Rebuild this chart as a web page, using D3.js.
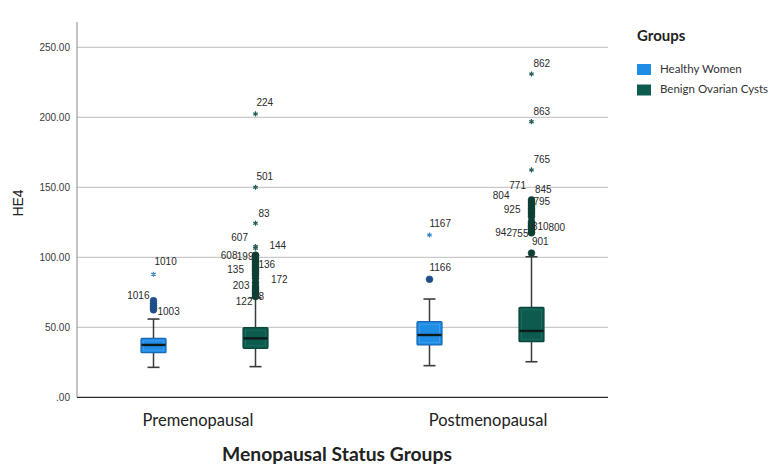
<!DOCTYPE html>
<html>
<head>
<meta charset="utf-8">
<script src="https://cdn.jsdelivr.net/npm/d3@7"></script>
<style>
  html, body { margin: 0; padding: 0; background: #ffffff; }
  svg { display: block; }
</style>
</head>
<body>
<svg id="chart" width="772" height="466"></svg>
<script>
// ---- data -------------------------------------------------------------
const categories = ["Premenopausal", "Postmenopausal"];
const groups = ["Healthy Women", "Benign Ovarian Cysts"];
const yTicks = [0, 50, 100, 150, 200, 250];

// five-number summaries [lower whisker, Q1, median, Q3, upper whisker], one per category
const healthyStats = [[21.4, 31.9, 37.4, 42.1, 55.9], [22.6, 37.4, 44.5, 54.0, 70.2]];
const benignStats  = [[21.9, 35.0, 42.1, 49.7, 71.0], [25.4, 39.7, 47.4, 64.3, 100.4]];

// outliers (circle) and extremes (star): [category, group, value, case label]
const outlierPoints = [
  ["Premenopausal", "Healthy Women", 69.0, "1016"],
  ["Premenopausal", "Healthy Women", 67.0, ""],
  ["Premenopausal", "Healthy Women", 65.5, ""],
  ["Premenopausal", "Healthy Women", 64.0, ""],
  ["Premenopausal", "Healthy Women", 62.5, "1003"],
  ["Premenopausal", "Benign Ovarian Cysts", 101.5, "608"],
  ["Premenopausal", "Benign Ovarian Cysts", 101.0, "199"],
  ["Premenopausal", "Benign Ovarian Cysts", 99.0, ""],
  ["Premenopausal", "Benign Ovarian Cysts", 97.5, ""],
  ["Premenopausal", "Benign Ovarian Cysts", 96.0, "136"],
  ["Premenopausal", "Benign Ovarian Cysts", 94.5, ""],
  ["Premenopausal", "Benign Ovarian Cysts", 93.0, "135"],
  ["Premenopausal", "Benign Ovarian Cysts", 91.5, ""],
  ["Premenopausal", "Benign Ovarian Cysts", 90.0, ""],
  ["Premenopausal", "Benign Ovarian Cysts", 88.5, ""],
  ["Premenopausal", "Benign Ovarian Cysts", 87.0, "172"],
  ["Premenopausal", "Benign Ovarian Cysts", 85.0, ""],
  ["Premenopausal", "Benign Ovarian Cysts", 82.0, ""],
  ["Premenopausal", "Benign Ovarian Cysts", 79.5, "203"],
  ["Premenopausal", "Benign Ovarian Cysts", 78.0, ""],
  ["Premenopausal", "Benign Ovarian Cysts", 76.5, ""],
  ["Premenopausal", "Benign Ovarian Cysts", 75.0, ""],
  ["Premenopausal", "Benign Ovarian Cysts", 73.5, "8"],
  ["Premenopausal", "Benign Ovarian Cysts", 72.0, "122"],
  ["Postmenopausal", "Healthy Women", 84.3, "1166"],
  ["Postmenopausal", "Benign Ovarian Cysts", 141.0, "771"],
  ["Postmenopausal", "Benign Ovarian Cysts", 139.5, "845"],
  ["Postmenopausal", "Benign Ovarian Cysts", 138.0, "804"],
  ["Postmenopausal", "Benign Ovarian Cysts", 136.5, "795"],
  ["Postmenopausal", "Benign Ovarian Cysts", 135.0, ""],
  ["Postmenopausal", "Benign Ovarian Cysts", 133.5, ""],
  ["Postmenopausal", "Benign Ovarian Cysts", 132.0, "925"],
  ["Postmenopausal", "Benign Ovarian Cysts", 130.5, ""],
  ["Postmenopausal", "Benign Ovarian Cysts", 129.0, ""],
  ["Postmenopausal", "Benign Ovarian Cysts", 125.5, ""],
  ["Postmenopausal", "Benign Ovarian Cysts", 124.0, ""],
  ["Postmenopausal", "Benign Ovarian Cysts", 122.5, "810"],
  ["Postmenopausal", "Benign Ovarian Cysts", 122.0, "800"],
  ["Postmenopausal", "Benign Ovarian Cysts", 121.0, ""],
  ["Postmenopausal", "Benign Ovarian Cysts", 119.5, ""],
  ["Postmenopausal", "Benign Ovarian Cysts", 118.0, "942"],
  ["Postmenopausal", "Benign Ovarian Cysts", 117.5, "755"],
  ["Postmenopausal", "Benign Ovarian Cysts", 103.0, "901"]
];
const extremePoints = [
  ["Premenopausal", "Healthy Women", 87.9, "1010"],
  ["Premenopausal", "Benign Ovarian Cysts", 202.4, "224"],
  ["Premenopausal", "Benign Ovarian Cysts", 150.0, "501"],
  ["Premenopausal", "Benign Ovarian Cysts", 124.3, "83"],
  ["Premenopausal", "Benign Ovarian Cysts", 107.6, "607"],
  ["Premenopausal", "Benign Ovarian Cysts", 106.5, "144"],
  ["Postmenopausal", "Healthy Women", 115.9, "1167"],
  ["Postmenopausal", "Benign Ovarian Cysts", 230.9, "862"],
  ["Postmenopausal", "Benign Ovarian Cysts", 196.9, "863"],
  ["Postmenopausal", "Benign Ovarian Cysts", 162.4, "765"]
];

// ---- layout -----------------------------------------------------------
const svg = d3.select("#chart");
const plot = { left: 77, right: 608, top: 22, bottom: 397.3 };
const boxW = 25, capW = 12;

const fills   = { "Healthy Women": "#1f8ce6", "Benign Ovarian Cysts": "#0c5b4e" };
const strokes = { "Healthy Women": "#1769b3", "Benign Ovarian Cysts": "#0a463c" };
const inner   = { "Healthy Women": "#5fb0f0", "Benign Ovarian Cysts": "#2f7d70" };
const dotFill = { "Healthy Women": "#1d4f86", "Benign Ovarian Cysts": "#0d3f35" };
const starCol = { "Healthy Women": "#3a87c8", "Benign Ovarian Cysts": "#245f56" };

// case-label placement: [dx from box centre, dy from point, anchor]
const labelPlace = {
  "1016": [-4, -4, "end"], "1003": [4, 3, "start"], "1010": [1, -11.5, "start"],
  "608": [-18, 1, "end"], "199": [-2, 1, "end"], "136": [3, 2, "start"],
  "135": [-11.5, 3.5, "end"], "172": [15.5, 4.5, "start"], "203": [-6, 0.7, "end"],
  "8": [3, 3, "start"], "122": [-3, 6, "end"],
  "224": [1, -11, "start"], "501": [1, -10, "start"], "83": [3, -9, "start"],
  "607": [-7.5, -8.5, "end"], "144": [14, -1.5, "start"],
  "1167": [0, -11, "start"], "1166": [0, -11, "start"],
  "862": [2, -10, "start"], "863": [2, -9, "start"], "765": [2, -10, "start"],
  "771": [-5.5, -14, "end"], "845": [3.5, -12, "start"], "804": [-22, -7.4, "end"],
  "795": [2, -4, "start"], "925": [-11, -2, "end"],
  "942": [-19.5, 1, "end"], "755": [-3, 1.3, "end"],
  "810": [0.5, 1.5, "start"], "800": [17, 2, "start"], "901": [0.5, -11, "start"]
};
// horizontal nudge of the category labels under the axis
const tickNudge = { "Premenopausal": -7, "Postmenopausal": 7 };

const x = d3.scalePoint().domain(categories).range([plot.left, plot.right]).padding(0.462);
const xSub = d3.scalePoint().domain(groups).range([-51, 51]);
const y = d3.scaleLinear().domain([0, 250]).range([plot.bottom, plot.bottom - 350]);
const cx = (cat, grp) => x(cat) + xSub(grp);

// gridlines
svg.append("g")
  .selectAll("line")
  .data(yTicks.filter(t => t > 0))
  .join("line")
  .attr("x1", plot.left).attr("x2", plot.right)
  .attr("y1", d => y(d)).attr("y2", d => y(d))
  .attr("stroke", "#c9c9c9").attr("stroke-width", 1.2);

// y axis
const yAxis = svg.append("g")
  .attr("transform", `translate(${plot.left},0)`)
  .call(d3.axisLeft(y).tickValues(yTicks).tickSize(0).tickPadding(7)
    .tickFormat(d => d === 0 ? ".00" : d.toFixed(2)));
yAxis.select(".domain").remove();
yAxis.selectAll("text")
  .attr("font-family", "Liberation Sans, Arial, sans-serif")
  .attr("font-size", 10).attr("fill", "#3a3a3a");
svg.append("line")
  .attr("x1", plot.left).attr("x2", plot.left)
  .attr("y1", plot.top).attr("y2", plot.bottom)
  .attr("stroke", "#8a8a8a").attr("stroke-width", 1);

// x axis
const xAxis = svg.append("g")
  .attr("transform", `translate(0,${plot.bottom})`)
  .call(d3.axisBottom(x).tickSize(0).tickPadding(17));
xAxis.select(".domain")
  .attr("d", `M${plot.left},0H${plot.right}`)
  .attr("stroke", "#2b2b2b").attr("stroke-width", 1.2);
xAxis.selectAll("text")
  .attr("dx", d => tickNudge[d])
  .attr("font-family", "Lato, 'Open Sans', sans-serif")
  .attr("font-size", 16.5).attr("fill", "#222");

// axis titles
svg.append("text")
  .attr("x", 337).attr("y", 461)
  .attr("text-anchor", "middle")
  .attr("font-family", "Lato, 'Open Sans', sans-serif")
  .attr("font-weight", "bold").attr("font-size", 19.3).attr("fill", "#222")
  .text("Menopausal Status Groups");
svg.append("text")
  .attr("transform", "translate(23,203) rotate(-90)")
  .attr("text-anchor", "middle")
  .attr("font-family", "Liberation Sans, Arial, sans-serif")
  .attr("font-size", 14).attr("fill", "#222")
  .text("HE4");

// boxes
const boxes = [];
categories.forEach((c, i) => {
  boxes.push({ cat: c, grp: groups[0], s: healthyStats[i] });
  boxes.push({ cat: c, grp: groups[1], s: benignStats[i] });
});

const bg = svg.append("g").selectAll("g").data(boxes).join("g");
bg.append("line")
  .attr("x1", d => cx(d.cat, d.grp)).attr("x2", d => cx(d.cat, d.grp))
  .attr("y1", d => y(d.s[0])).attr("y2", d => y(d.s[4]))
  .attr("stroke", "#3b3b3b").attr("stroke-width", 1.5);
bg.selectAll(".cap").data(d => [[d, d.s[0]], [d, d.s[4]]]).join("line")
  .attr("x1", ([d]) => cx(d.cat, d.grp) - capW / 2)
  .attr("x2", ([d]) => cx(d.cat, d.grp) + capW / 2)
  .attr("y1", ([, v]) => y(v)).attr("y2", ([, v]) => y(v))
  .attr("stroke", "#3b3b3b").attr("stroke-width", 1.6);
bg.append("rect")
  .attr("x", d => cx(d.cat, d.grp) - boxW / 2)
  .attr("width", boxW)
  .attr("y", d => y(d.s[3]))
  .attr("height", d => y(d.s[1]) - y(d.s[3]))
  .attr("rx", 1)
  .attr("fill", d => fills[d.grp])
  .attr("stroke", d => strokes[d.grp]).attr("stroke-width", 1.2);
bg.append("rect")
  .attr("x", d => cx(d.cat, d.grp) - boxW / 2 + 2.5)
  .attr("width", boxW - 5)
  .attr("y", d => y(d.s[3]) + 2.5)
  .attr("height", d => y(d.s[1]) - y(d.s[3]) - 5)
  .attr("fill", "none")
  .attr("stroke", d => inner[d.grp]).attr("stroke-width", 0.8).attr("opacity", 0.6);
bg.append("line")
  .attr("x1", d => cx(d.cat, d.grp) - boxW / 2 + 0.5)
  .attr("x2", d => cx(d.cat, d.grp) + boxW / 2 - 0.5)
  .attr("y1", d => y(d.s[2])).attr("y2", d => y(d.s[2]))
  .attr("stroke", "#0d1a1a").attr("stroke-width", 2.4);

// outlier circles
svg.append("g").selectAll("circle").data(outlierPoints).join("circle")
  .attr("cx", d => cx(d[0], d[1]))
  .attr("cy", d => y(d[2]))
  .attr("r", 3.4)
  .attr("fill", d => dotFill[d[1]])
  .attr("stroke", d => dotFill[d[1]]).attr("stroke-width", 0.6);

// extreme stars
svg.append("g").selectAll("path").data(extremePoints).join("path")
  .attr("transform", d => `translate(${cx(d[0], d[1])},${y(d[2])})`)
  .attr("d", d3.symbol(d3.symbolAsterisk, 18))
  .attr("fill", "none")
  .attr("stroke", d => starCol[d[1]]).attr("stroke-width", 1.2);

// case labels
const labelled = outlierPoints.concat(extremePoints).filter(d => d[3] !== "");
svg.append("g").selectAll("text").data(labelled).join("text")
  .attr("x", d => cx(d[0], d[1]) + labelPlace[d[3]][0])
  .attr("y", d => y(d[2]) + labelPlace[d[3]][1])
  .attr("text-anchor", d => labelPlace[d[3]][2])
  .attr("dominant-baseline", "middle")
  .attr("font-family", "Liberation Sans, Arial, sans-serif")
  .attr("font-size", 10).attr("fill", "#2a2a2a")
  .text(d => d[3]);

// legend
const legend = svg.append("g").attr("transform", "translate(637,0)");
legend.append("text")
  .attr("x", 0).attr("y", 41)
  .attr("font-family", "Lato, 'Open Sans', sans-serif")
  .attr("font-weight", "bold").attr("font-size", 15).attr("fill", "#222")
  .text("Groups");
const li = legend.selectAll(".item").data(groups).join("g")
  .attr("transform", (d, i) => `translate(0,${64 + i * 20.5})`);
li.append("rect")
  .attr("width", 14).attr("height", 11)
  .attr("fill", d => fills[d]);
li.append("text")
  .attr("x", 23).attr("y", 6)
  .attr("dominant-baseline", "middle")
  .attr("font-family", "Lato, 'Open Sans', sans-serif")
  .attr("font-size", 11.5).attr("fill", "#333")
  .text(d => d);
</script>
</body>
</html>
